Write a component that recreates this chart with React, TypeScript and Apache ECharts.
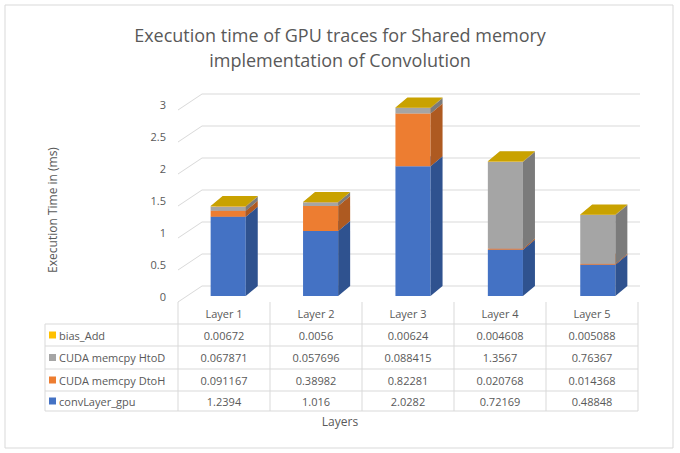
import { useEffect, useRef } from "react";
import * as echarts from "echarts";

const categories = ["Layer 1", "Layer 2", "Layer 3", "Layer 4", "Layer 5"];
const convLayer = [1.2394, 1.016, 2.0282, 0.72169, 0.48848];
const memcpyDtoH = [0.091167, 0.38982, 0.82281, 0.020768, 0.014368];
const memcpyHtoD = [0.067871, 0.057696, 0.088415, 1.3567, 0.76367];
const biasAdd = [0.00672, 0.0056, 0.00624, 0.004608, 0.005088];
const yTicks = [0, 0.5, 1, 1.5, 2, 2.5, 3];

const seriesDefs = [
  { name: "convLayer_gpu", data: convLayer, front: "#4472C4", side: "#2F528F", top: "#5B87D6" },
  { name: "CUDA memcpy DtoH", data: memcpyDtoH, front: "#ED7D31", side: "#AE5A21", top: "#F19A5E" },
  { name: "CUDA memcpy HtoD", data: memcpyHtoD, front: "#A5A5A5", side: "#7B7B7B", top: "#BDBDBD" },
  { name: "bias_Add", data: biasAdd, front: "#FFC000", side: "#BF9000", top: "#C9A200" },
];

const fmt = (v: number) => String(v);

export default function App() {
  const ref = useRef<HTMLDivElement>(null);

  useEffect(() => {
    document.body.style.margin = "0";
    const chart = echarts.init(ref.current!, null, { renderer: "svg" });
    const font = "'Open Sans', sans-serif";
    const txt = "#595959";
    const dx = 12;
    const dy = 10;

    const barSeries = seriesDefs.map((s, si) => ({
      type: "custom" as const,
      name: s.name,
      z: 3 + si,
      data: s.data.map((v, i) => [i, v]),
      renderItem: (params: any, api: any) => {
        const i = params.dataIndex;
        let base = 0;
        for (let k = 0; k < si; k++) base += seriesDefs[k].data[i];
        const top = base + s.data[i];
        const p0 = api.coord([i, base]);
        const p1 = api.coord([i, top]);
        const w = api.size([1, 0])[0] * 0.38;
        const x0 = p0[0] - w / 2 + 4;
        const x1 = x0 + w;
        return {
          type: "group",
          children: [
            { type: "rect", shape: { x: x0, y: p1[1], width: w, height: p0[1] - p1[1] }, style: { fill: s.front } },
            {
              type: "polygon",
              shape: { points: [[x1, p0[1]], [x1 + dx, p0[1] - dy], [x1 + dx, p1[1] - dy], [x1, p1[1]]] },
              style: { fill: s.side },
            },
            {
              type: "polygon",
              shape: { points: [[x0, p1[1]], [x1, p1[1]], [x1 + dx, p1[1] - dy], [x0 + dx, p1[1] - dy]] },
              style: { fill: s.top },
            },
          ],
        };
      },
    }));

    const gridSeries = {
      type: "custom" as const,
      z: 1,
      silent: true,
      data: yTicks.map((v) => [0, v]),
      renderItem: (params: any, api: any) => {
        const cs = params.coordSys;
        const y = api.coord([0, api.value(1)])[1];
        return {
          type: "polyline",
          shape: { points: [[cs.x, y + 6], [cs.x + 24, y - 10], [cs.x + cs.width, y - 10]] },
          style: { stroke: "#D9D9D9", lineWidth: 1, fill: "none" },
        };
      },
    };

    // table
    const colX = [178, 270, 362, 454, 546, 638];
    const rowY = [302, 324, 346, 369, 391, 411];
    const g: any[] = [];
    const lineStyle = { stroke: "#D9D9D9", lineWidth: 1 };
    colX.forEach((x) => g.push({ type: "line", shape: { x1: x, y1: rowY[0], x2: x, y2: rowY[5] }, style: lineStyle }));
    g.push({ type: "line", shape: { x1: 45, y1: rowY[1], x2: 45, y2: rowY[5] }, style: lineStyle });
    rowY.slice(1).forEach((y) => g.push({ type: "line", shape: { x1: 45, y1: y, x2: 638, y2: y }, style: lineStyle }));
    categories.forEach((c, ci) =>
      g.push({
        type: "text",
        x: (colX[ci] + colX[ci + 1]) / 2,
        y: (rowY[0] + rowY[1]) / 2,
        style: { text: c, fill: txt, font: `11px ${font}`, align: "center", verticalAlign: "middle" },
      })
    );
    const rows = [...seriesDefs].reverse();
    rows.forEach((s, ri) => {
      const cy = (rowY[ri + 1] + rowY[ri + 2]) / 2;
      g.push({ type: "rect", shape: { x: 49, y: cy - 3.5, width: 7, height: 7 }, style: { fill: s.front } });
      g.push({
        type: "text",
        x: 59,
        y: cy,
        style: { text: s.name, fill: txt, font: `11px ${font}`, verticalAlign: "middle" },
      });
      s.data.forEach((v, ci) =>
        g.push({
          type: "text",
          x: (colX[ci] + colX[ci + 1]) / 2,
          y: cy,
          style: { text: fmt(v), fill: txt, font: `11px ${font}`, align: "center", verticalAlign: "middle" },
        })
      );
    });
    g.push({ type: "rect", shape: { x: 5, y: 5, width: 668, height: 443 }, style: { fill: "none", stroke: "#D9D9D9" } });
    g.push({
      type: "text",
      x: 52,
      y: 210,
      rotation: Math.PI / 2,
      style: { text: "Execution Time in (ms)", fill: txt, font: `12px ${font}`, align: "center", verticalAlign: "middle" },
    });
    g.push({
      type: "text",
      x: 340,
      y: 421,
      style: { text: "Layers", fill: txt, font: `12px ${font}`, align: "center", verticalAlign: "middle" },
    });

    chart.setOption({
      animation: false,
      backgroundColor: "#ffffff",
      title: {
        text: "Execution time of GPU traces for Shared memory\nimplementation of Convolution",
        left: "center",
        top: 17,
        textStyle: { color: txt, fontSize: 18, fontWeight: "normal", fontFamily: font, lineHeight: 25 },
      },
      grid: { left: 178, right: 40, top: 104, height: 192 },
      xAxis: {
        type: "category",
        data: categories,
        axisLine: { show: false },
        axisTick: { show: false },
        axisLabel: { show: false },
      },
      yAxis: {
        type: "value",
        min: 0,
        max: 3,
        interval: 0.5,
        axisLine: { show: false },
        axisTick: { show: false },
        splitLine: { show: false },
        axisLabel: { color: txt, fontSize: 11, fontFamily: font, margin: 12, padding: [12, 0, 0, 0] },
      },
      graphic: g,
      series: [gridSeries, ...barSeries],
    });
    return () => chart.dispose();
  }, []);

  return <div ref={ref} style={{ width: 680, height: 453 }} />;
}
